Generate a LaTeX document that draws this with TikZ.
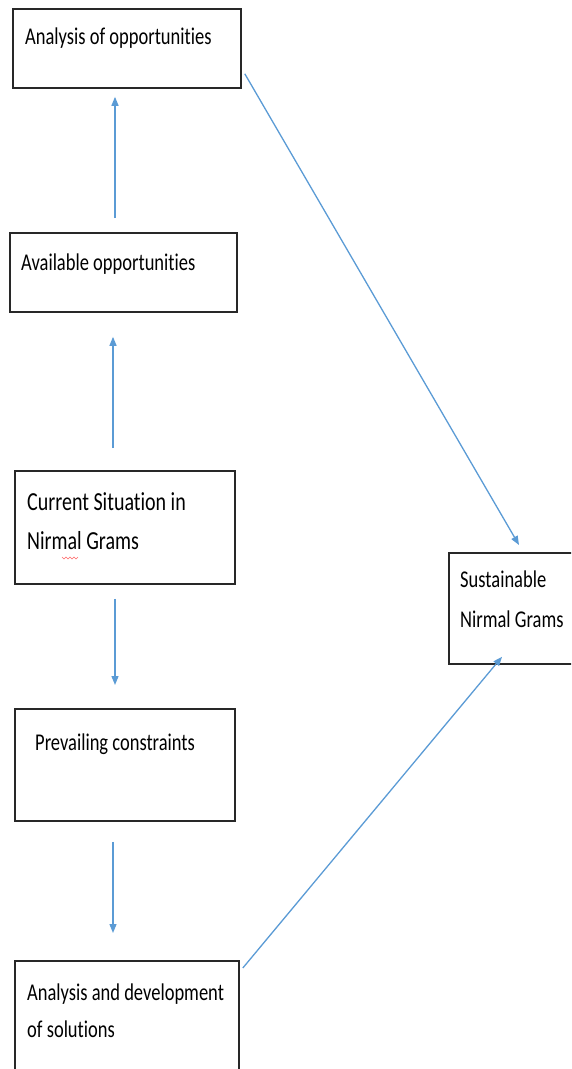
\documentclass[tikz,border=0pt]{standalone}
\usepackage{fontspec}
\setmainfont[Ligatures=NoCommon]{Carlito}
\usetikzlibrary{arrows.meta}
\definecolor{linkblue}{RGB}{91,155,213}
\definecolor{boxline}{RGB}{40,40,40}
\newcommand\tallt[1]{\scalebox{1}[1.3]{#1}}
\tikzset{
  x=1pt, y=-1pt,
  box/.style={draw=boxline, line width=1.8pt, rectangle, anchor=north west, inner sep=0pt},
  label/.style={anchor=base west, inner sep=0pt, font=\fontsize{18.5}{18.5}\selectfont},
  biglabel/.style={label, font=\fontsize{20}{20}\selectfont},
  arr/.style={draw=linkblue, line width=1.3pt, -{Triangle[length=9pt,width=7pt]}},
}
\begin{document}
\begin{tikzpicture}
\useasboundingbox (0,0) rectangle (571,1069);
\clip (0,0) rectangle (571,1069);

% boxes
\node[box, minimum width=228pt, minimum height=79pt] (b1) at (12,8) {};
\node[box, minimum width=227pt, minimum height=79pt] (b2) at (9,232) {};
\node[box, minimum width=220pt, minimum height=113pt] (b3) at (14,470) {};
\node[box, minimum width=140pt, minimum height=111pt] (b4) at (448,552) {};
\node[box, minimum width=220pt, minimum height=112pt] (b5) at (14,708) {};
\node[box, minimum width=224pt, minimum height=130pt] (b6) at (14,960) {};

% texts
\node[label] (t1) at (25,44) {\tallt{Analysis of opportunities}};
\node[label] (t2) at (21,270) {\tallt{Available opportunities}};
\node[biglabel] (t3a) at (27,510) {\tallt{Current Situation in}};
\node[biglabel] (t3b) at (27,549) {\tallt{Nirmal Grams}};
\node[label] (t4a) at (460,587) {\tallt{Sustainable}};
\node[label] (t4b) at (460,627) {\tallt{Nirmal Grams}};
\node[label] (t5) at (35,750) {\tallt{Prevailing constraints}};
\node[label] (t6a) at (27,1000) {\tallt{Analysis and development}};
\node[label] (t6b) at (27,1037) {\tallt{of solutions}};

% spelling mark under "Nirmal"
\draw[red!60, line width=0.5pt] (62,557) -- (64,559) -- (66,557) -- (68,559) -- (70,557) -- (72,559) -- (74,557) -- (76,559) -- (78,557);

% vertical connectors
\coordinate (ax) at (115,0);
\coordinate (bx) at (113,0);
\draw[arr, shorten <=14pt, shorten >=8pt] (b2.north -| ax) -- (b1.south -| ax);
\draw[arr, shorten <=22pt, shorten >=24pt] (b3.north -| bx) -- (b2.south -| bx);
\draw[arr, shorten <=14pt, shorten >=23pt] (b3.south -| ax) -- (b5.north -| ax);
\draw[arr, shorten <=20pt, shorten >=27pt] (b5.south -| bx) -- (b6.north -| bx);

% diagonal connectors
\draw[arr] ([shift={(3,-15)}]b1.south east) -- ([shift={(71,-7)}]b4.north west);
\draw[arr] ([shift={(3,8)}]b6.north east) -- ([shift={(54,-8)}]b4.south west);
\end{tikzpicture}
\end{document}
